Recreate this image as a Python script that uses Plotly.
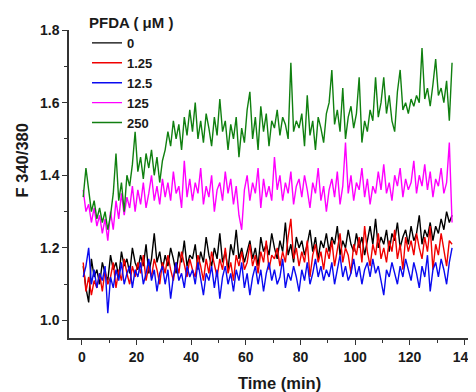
import plotly.graph_objects as go

time_min = [0.5 + i for i in range(136)]

pfda_0 = [
    1.15, 1.09, 1.05, 1.17, 1.12, 1.14, 1.10, 1.16, 1.13, 1.11,
    1.18, 1.14, 1.16, 1.12, 1.19, 1.15, 1.17, 1.13, 1.20, 1.16,
    1.14, 1.18, 1.15, 1.21, 1.13, 1.17, 1.24, 1.16, 1.19, 1.14,
    1.18, 1.15, 1.20, 1.17, 1.13, 1.19, 1.16, 1.22, 1.15, 1.18,
    1.17, 1.21, 1.14, 1.19, 1.16, 1.23, 1.18, 1.15, 1.20, 1.17,
    1.24, 1.16, 1.19, 1.14, 1.21, 1.18, 1.25, 1.17, 1.20, 1.16,
    1.19, 1.22, 1.17, 1.20, 1.15, 1.23, 1.19, 1.21, 1.18, 1.24,
    1.20, 1.17, 1.22, 1.19, 1.27, 1.18, 1.21, 1.16, 1.23, 1.20,
    1.22, 1.18, 1.21, 1.25, 1.19, 1.23, 1.17, 1.22, 1.20, 1.24,
    1.19, 1.23, 1.21, 1.26, 1.18, 1.22, 1.20, 1.25, 1.21, 1.19,
    1.24, 1.20, 1.23, 1.18, 1.22, 1.26, 1.21, 1.28, 1.20, 1.23,
    1.21, 1.25, 1.19, 1.24, 1.22, 1.27, 1.20, 1.23, 1.25, 1.21,
    1.26, 1.22, 1.24, 1.29, 1.21, 1.25, 1.23, 1.27, 1.22, 1.26,
    1.24, 1.28, 1.25, 1.30, 1.27, 1.29,
]

pfda_1_25 = [
    1.16, 1.08, 1.12, 1.07, 1.11, 1.09, 1.13, 1.08, 1.14, 1.10,
    1.12, 1.16, 1.09, 1.14, 1.11, 1.17, 1.13, 1.10, 1.15, 1.12,
    1.16, 1.13, 1.18, 1.11, 1.15, 1.12, 1.17, 1.14, 1.10, 1.16,
    1.13, 1.18, 1.14, 1.11, 1.16, 1.13, 1.19, 1.15, 1.12, 1.17,
    1.14, 1.12, 1.18, 1.15, 1.11, 1.17, 1.13, 1.19, 1.15, 1.12,
    1.17, 1.14, 1.20, 1.13, 1.16, 1.11, 1.18, 1.15, 1.19, 1.14,
    1.16, 1.21, 1.15, 1.18, 1.13, 1.19, 1.16, 1.22, 1.14, 1.18,
    1.17, 1.20, 1.15, 1.19, 1.16, 1.23, 1.28, 1.17, 1.20, 1.15,
    1.19, 1.16, 1.22, 1.12, 1.18, 1.21, 1.16, 1.19, 1.14, 1.20,
    1.17, 1.22, 1.15, 1.19, 1.24, 1.16, 1.20, 1.18, 1.13, 1.21,
    1.18, 1.23, 1.16, 1.26, 1.19, 1.15, 1.21, 1.18, 1.24, 1.17,
    1.20, 1.16, 1.22, 1.19, 1.25, 1.17, 1.21, 1.14, 1.23, 1.19,
    1.22, 1.18, 1.24, 1.20, 1.17, 1.23, 1.19, 1.26, 1.14, 1.21,
    1.18, 1.24, 1.20, 1.15, 1.22, 1.21,
]

pfda_12_5 = [
    1.12, 1.15, 1.20, 1.10, 1.14, 1.09, 1.13, 1.11, 1.15, 1.02,
    1.12, 1.09, 1.14, 1.11, 1.16, 1.10, 1.13, 1.15, 1.09, 1.14,
    1.12, 1.16, 1.10, 1.13, 1.17, 1.11, 1.14, 1.08, 1.13, 1.15,
    1.10, 1.14, 1.06, 1.12, 1.16, 1.11, 1.13, 1.09, 1.15, 1.12,
    1.14, 1.10, 1.16, 1.12, 1.07, 1.13, 1.11, 1.15, 1.09, 1.14,
    1.06, 1.12, 1.15, 1.10, 1.13, 1.08, 1.14, 1.11, 1.16, 1.09,
    1.13, 1.07, 1.12, 1.15, 1.10, 1.14, 1.08, 1.13, 1.16, 1.11,
    1.14, 1.10, 1.12, 1.17, 1.09, 1.13, 1.11, 1.15, 1.12, 1.08,
    1.14, 1.11, 1.16, 1.10, 1.13, 1.17, 1.12, 1.15, 1.11, 1.14,
    1.12, 1.16, 1.10, 1.14, 1.18, 1.12, 1.15, 1.11, 1.13, 1.17,
    1.12, 1.15, 1.10, 1.14, 1.16, 1.12, 1.17, 1.13, 1.15, 1.11,
    1.07, 1.14, 1.12, 1.16, 1.13, 1.10, 1.15, 1.12, 1.17, 1.14,
    1.11, 1.16, 1.13, 1.09, 1.15, 1.12, 1.18, 1.08, 1.14, 1.16,
    1.12, 1.17, 1.14, 1.10, 1.16, 1.20,
]

pfda_125 = [
    1.36, 1.30, 1.32, 1.27, 1.31, 1.26, 1.29, 1.24, 1.28, 1.22,
    1.30, 1.25, 1.33, 1.28, 1.35, 1.29, 1.34, 1.31, 1.37, 1.30,
    1.36, 1.32, 1.38, 1.31, 1.35, 1.40, 1.33, 1.37, 1.32, 1.39,
    1.34, 1.38, 1.33, 1.41, 1.35, 1.37, 1.31, 1.44, 1.34, 1.39,
    1.33, 1.38, 1.35, 1.42, 1.32, 1.37, 1.34, 1.40, 1.30, 1.36,
    1.38, 1.33, 1.41, 1.35, 1.39, 1.32, 1.37, 1.29, 1.25, 1.36,
    1.40, 1.33, 1.38, 1.35, 1.42, 1.31, 1.39, 1.34, 1.37, 1.33,
    1.45, 1.36, 1.40, 1.33, 1.38, 1.35, 1.41, 1.32, 1.37, 1.39,
    1.34, 1.40, 1.36, 1.31, 1.38, 1.35, 1.42, 1.33, 1.37, 1.30,
    1.36, 1.39, 1.34, 1.41, 1.32, 1.37, 1.49, 1.35, 1.40, 1.33,
    1.38, 1.36, 1.42, 1.34, 1.39, 1.32, 1.37, 1.35, 1.41, 1.36,
    1.43, 1.35, 1.38, 1.33, 1.40, 1.37, 1.42, 1.34, 1.39, 1.36,
    1.38, 1.44, 1.35, 1.40, 1.37, 1.43, 1.36, 1.41, 1.34, 1.39,
    1.37, 1.42, 1.35, 1.38, 1.49, 1.27,
]

pfda_250 = [
    1.34, 1.42, 1.36, 1.30, 1.33, 1.28, 1.31, 1.27, 1.30, 1.25,
    1.29, 1.35, 1.46, 1.33, 1.38, 1.30, 1.40, 1.37, 1.43, 1.52,
    1.41, 1.45, 1.39, 1.46, 1.42, 1.47, 1.40, 1.45, 1.38, 1.44,
    1.47, 1.52, 1.48, 1.55, 1.50, 1.54, 1.47, 1.56, 1.51, 1.58,
    1.52, 1.60, 1.50, 1.55, 1.49, 1.57, 1.53, 1.48, 1.56, 1.51,
    1.61, 1.52, 1.55, 1.47, 1.54, 1.50, 1.56, 1.45, 1.53, 1.49,
    1.58, 1.63, 1.50, 1.56, 1.47, 1.59, 1.52, 1.57, 1.48, 1.55,
    1.53, 1.58, 1.51, 1.56, 1.54, 1.50, 1.71, 1.52, 1.55, 1.53,
    1.57, 1.48, 1.62, 1.51, 1.55, 1.47, 1.56, 1.53, 1.49, 1.57,
    1.60, 1.69, 1.54, 1.58, 1.52, 1.64, 1.50, 1.56, 1.59, 1.53,
    1.57, 1.67, 1.49, 1.55, 1.52, 1.58, 1.55, 1.67, 1.56, 1.60,
    1.67, 1.57, 1.62, 1.55, 1.52, 1.63, 1.69, 1.58, 1.60, 1.57,
    1.61, 1.59, 1.62, 1.60, 1.75, 1.61, 1.64, 1.59, 1.65, 1.72,
    1.62, 1.64, 1.60, 1.66, 1.55, 1.71,
]

series_names = ["0", "1.25", "12.5", "125", "250"]
series_values = [pfda_0, pfda_1_25, pfda_12_5, pfda_125, pfda_250]
series_colors = ["#000000", "#f00000", "#0a0af0", "#ff00ff", "#108010"]

x_ticks = [0, 20, 40, 60, 80, 100, 120, 140]
y_ticks = [1.0, 1.2, 1.4, 1.6, 1.8]

fig = go.Figure()
for name, vals, col in zip(series_names, series_values, series_colors):
    fig.add_trace(go.Scatter(
        x=time_min, y=vals, mode="lines", name=f"<b>{name}</b>",
        line=dict(color=col, width=1.4),
    ))

font_family = "Liberation Sans, Arial, sans-serif"

# page body has an 8px margin, so the figure is sized/placed to compensate
fig.update_layout(
    width=468, height=384,
    margin=dict(l=61, r=0, t=21, b=54),
    paper_bgcolor="white", plot_bgcolor="white",
    font=dict(family=font_family, size=14, color="#1a1a1a"),
    showlegend=True,
    legend=dict(
        title=dict(text="<b>PFDA ( μM )</b>", font=dict(size=15), side="top"),
        x=0.045, y=1.07, xanchor="left", yanchor="top",
        bgcolor="rgba(0,0,0,0)", borderwidth=0,
        font=dict(size=13, family=font_family),
        tracegroupgap=0, itemwidth=30,
    ),
    xaxis=dict(
        range=[-4.7, 141.7], tickvals=x_ticks,
        ticktext=[f"<b>{v}</b>" for v in x_ticks],
        ticks="outside", ticklen=5, tickwidth=1.2, tickcolor="#333",
        showline=True, linecolor="#333", linewidth=1.5,
        showgrid=False, zeroline=False, ticklabeloverflow="allow",
        minor=dict(dtick=10, tick0=0, ticks="outside", ticklen=3, tickwidth=1, tickcolor="#333", showgrid=False),
        tickfont=dict(size=14),
    ),
    yaxis=dict(
        range=[0.952, 1.8], tickvals=y_ticks,
        ticktext=[f"<b>{v:.1f}</b>" for v in y_ticks],
        ticks="outside", ticklen=5, tickwidth=1.2, tickcolor="#333",
        showline=True, linecolor="#333", linewidth=1.5,
        showgrid=False, zeroline=False,
        minor=dict(dtick=0.1, tick0=0, ticks="outside", ticklen=3, tickwidth=1, tickcolor="#333", showgrid=False),
        tickfont=dict(size=14),
    ),
    annotations=[
        dict(text="<b>Time (min)</b>", xref="paper", yref="paper",
             x=0.526, y=-0.146, xanchor="center", yanchor="middle",
             showarrow=False, font=dict(size=16.5)),
        dict(text="<b>F 340/380</b>", xref="paper", yref="paper",
             x=-0.118, y=0.576, xanchor="center", yanchor="middle",
             textangle=-90, showarrow=False, font=dict(size=16.5)),
    ],
)

fig.write_html("out.html")
